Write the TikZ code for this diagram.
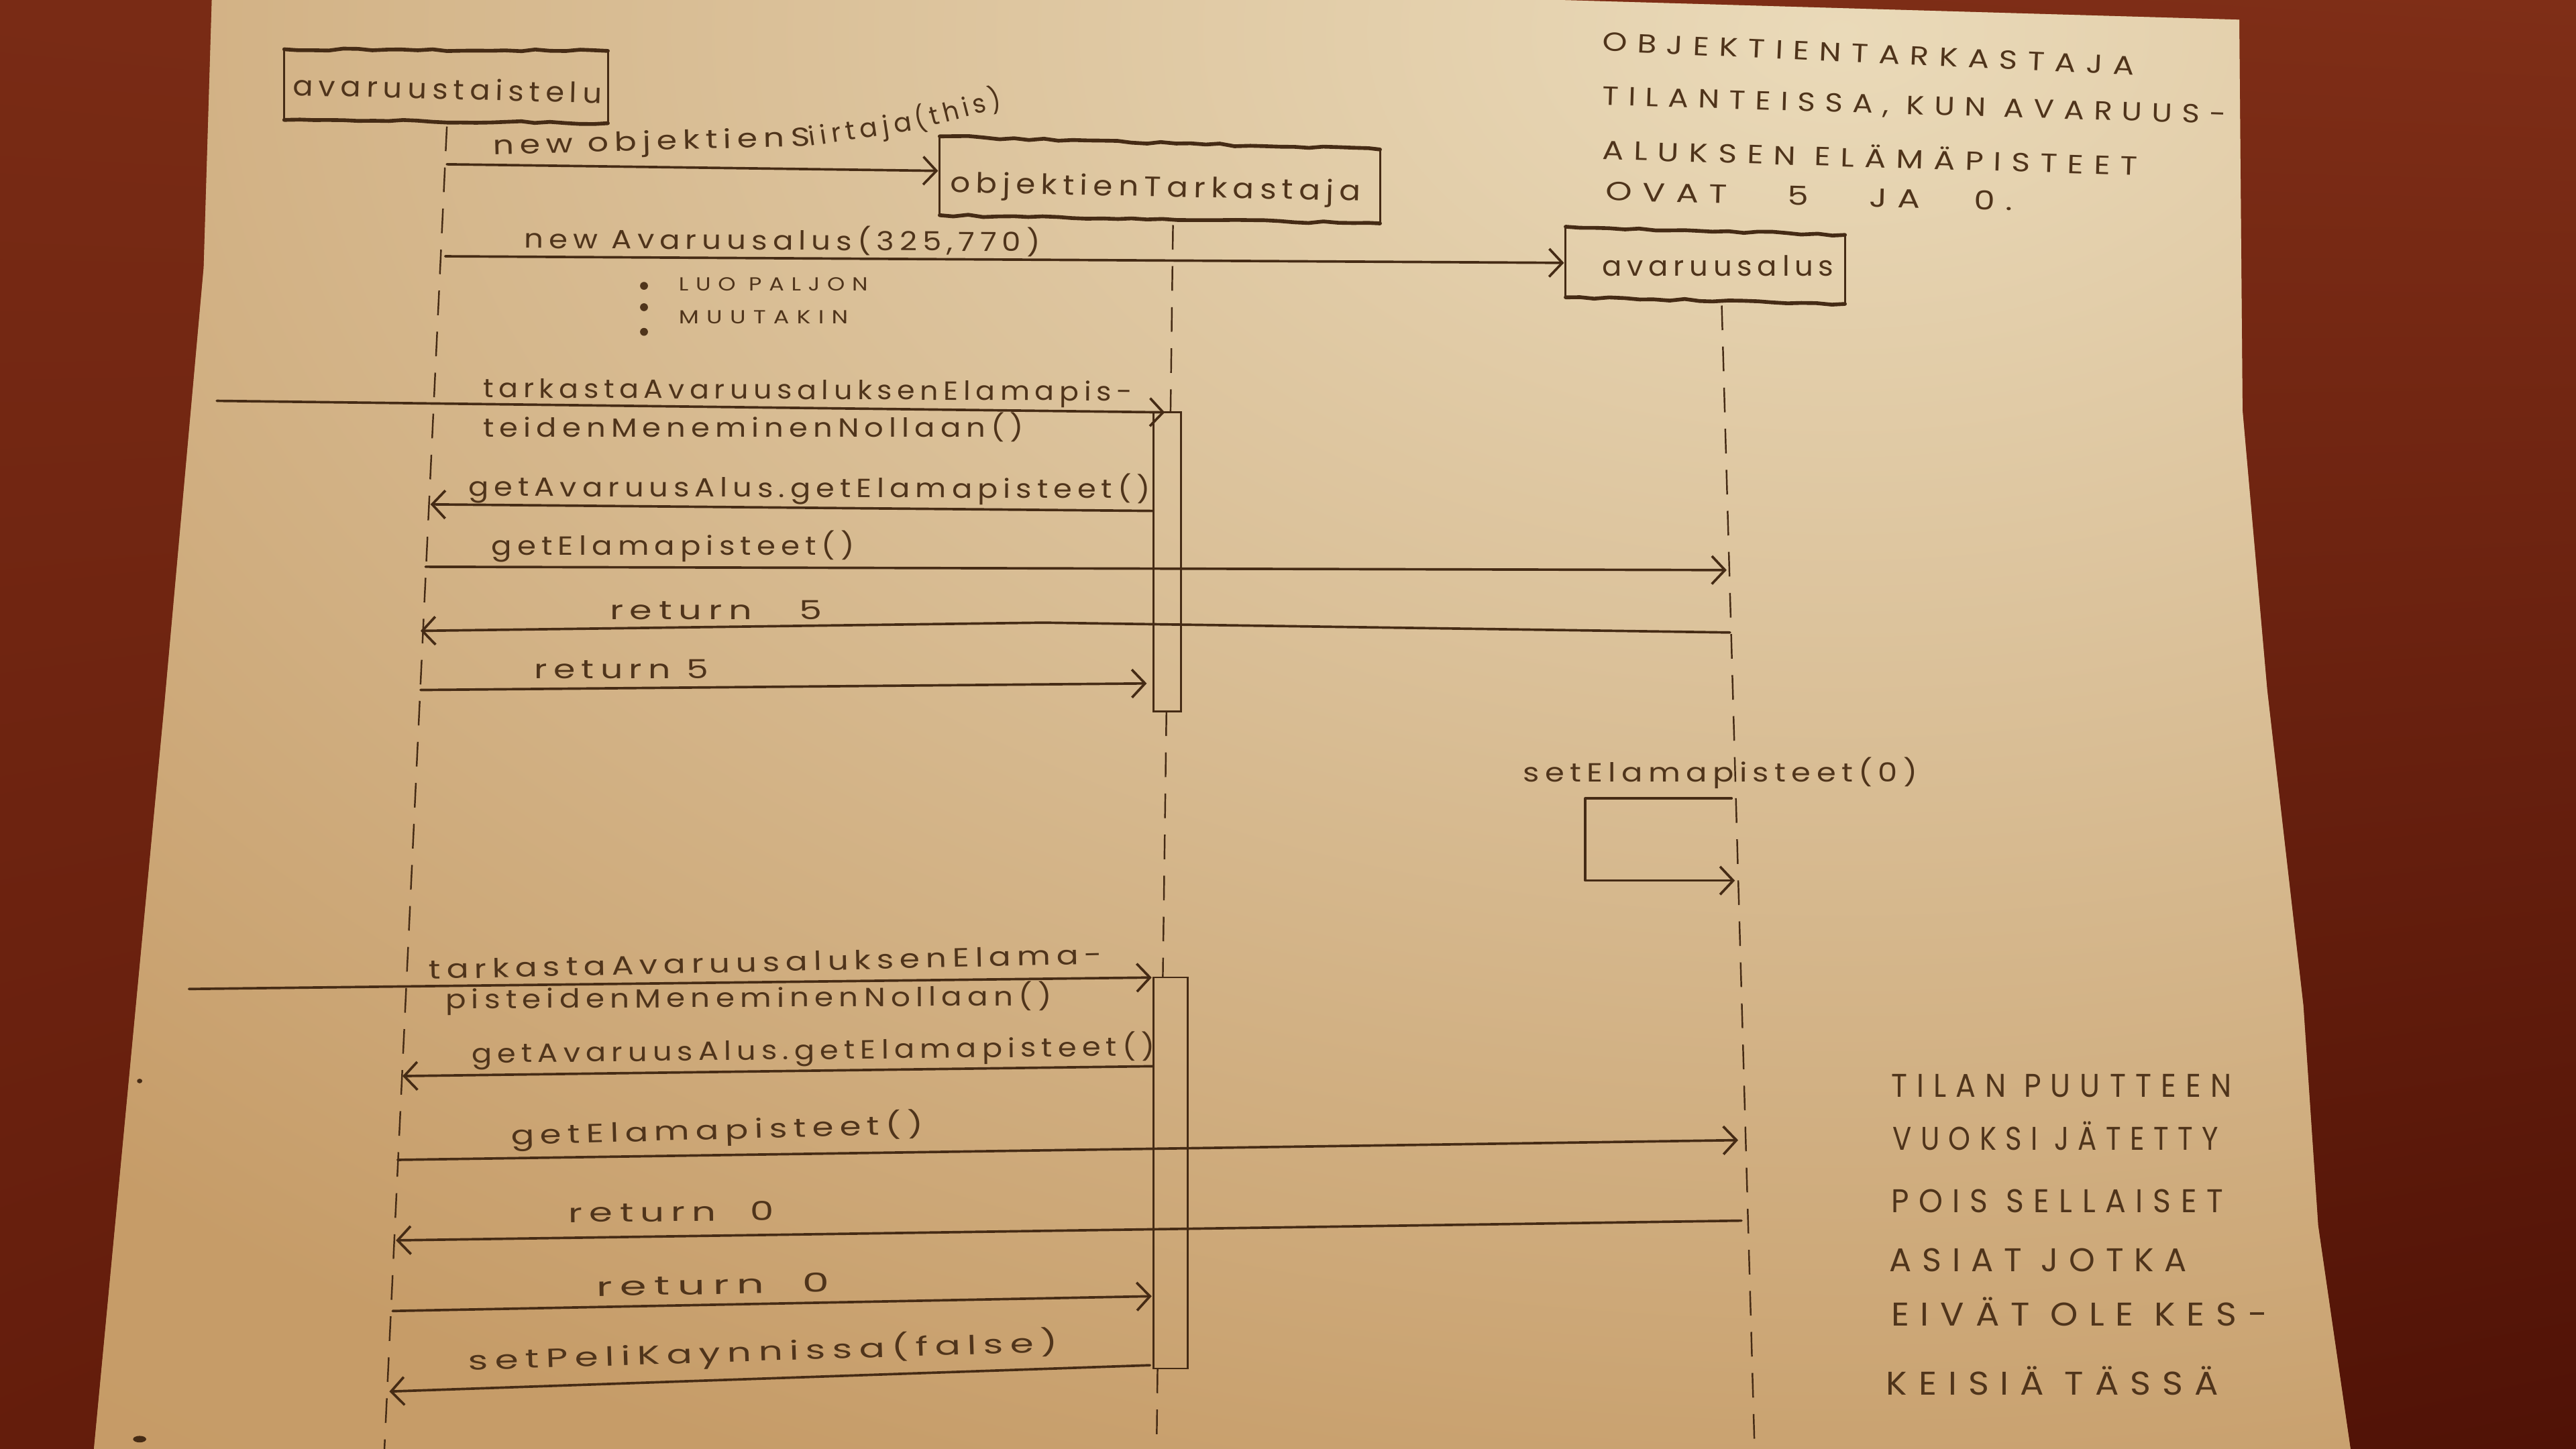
\documentclass[tikz,border=0pt]{standalone}
\usepackage{fontspec}
\usepackage{graphicx}
\usetikzlibrary{arrows.meta,decorations.pathmorphing,shadings}
\newfontfamily\handfont[LetterSpace=18]{Poppins}
\newfontfamily\capsfont[LetterSpace=32]{Poppins}
\definecolor{inkc}{HTML}{452B15}
\definecolor{textc}{HTML}{4F341B}
\definecolor{paperA}{HTML}{EADAB9}
\definecolor{paperB}{HTML}{DCC39C}
\definecolor{paperC}{HTML}{C69C68}
\definecolor{paperD}{HTML}{BE925D}
\definecolor{woodUL}{HTML}{792B15}
\definecolor{woodUR}{HTML}{7F2E17}
\definecolor{woodLL}{HTML}{641D0C}
\definecolor{woodLR}{HTML}{501206}
% light falling on the sheet from the upper right
\pgfdeclareradialshading{paperlight}{\pgfpoint{0bp}{0bp}}{%
  color(0bp)=(paperA); color(6bp)=(paperB); color(16bp)=(paperC);
  color(50bp)=(paperD)}
% squeeze or stretch a label horizontally to a given width (in pt)
\newcommand\fitw[2]{\resizebox{#1pt}{\height}{#2}}
\tikzset{
  ink/.style={draw=inkc, line width=1.5pt, line cap=round, line join=round},
  lifeline/.style={draw=inkc, line width=1pt, dash pattern=on 15pt off 10pt},
  msg/.style={ink, -{Straight Barb[length=8pt,width=17pt]}},
  boxedge/.style={draw=inkc, line width=2.3pt, line cap=round,
    decorate, decoration={random steps, segment length=9pt, amplitude=0.7pt}},
  boxside/.style={draw=inkc, line width=1.2pt},
  actbox/.style={draw=inkc, line width=1.1pt},
  lbl/.style={inner sep=0pt, anchor=base west, text=textc,
    font=\handfont\fontsize{16pt}{18pt}\selectfont},
  hdr/.style={lbl, font=\handfont\fontsize{17pt}{19pt}\selectfont},
  small/.style={lbl, font=\capsfont\fontsize{11.5pt}{13pt}\selectfont},
  note/.style={lbl, font=\capsfont\fontsize{16pt}{18pt}\selectfont},
  bignote/.style={lbl, font=\capsfont\fontsize{20pt}{22pt}\selectfont},
}
\begin{document}
\begin{tikzpicture}[x=1pt,y=-1pt]
\useasboundingbox (0,0) rectangle (1568,882);

% table top
\shade[upper left=woodUL, upper right=woodUR, lower left=woodLL, lower right=woodLR]
  (0,0) rectangle (1568,882);

% sheet of paper
\def\paperpath{(129,-2) -- (880,-2) -- (1363,12) -- (1365,250) -- (1380,420)
  -- (1402,612) -- (1411,746) -- (1431,884) -- (57,884) -- (75,694)
  -- (100,430) -- (124,163) -- cycle}
\begin{scope}
  \clip \paperpath;
  \fill[paperD] (0,0) rectangle (1568,882);
  \shade[shading=paperlight] (1120,20) ellipse (2400 and 1500);
\end{scope}

% ---------- participants ----------
\node[hdr, rotate=-1.5] (avaru) at (178,58) {\fitw{188}{avaruustaistelu}};
\draw[boxedge] (173,30) -- (370,31);
\draw[boxedge] (173,73) -- (370,75);
\draw[boxside] (173,30) -- (173,73);
\draw[boxside] (370,31) -- (370,75);

\node[hdr, rotate=-1.2] (tark) at (578,117) {\fitw{250}{objektienTarkastaja}};
\draw[boxedge] (572,83) -- (840,91);
\draw[boxedge] (572,131) -- (840,136);
\draw[boxside] (572,83) -- (572,131);
\draw[boxside] (840,91) -- (840,136);

\node[hdr] (alus) at (975,168) {\fitw{141}{avaruusalus}};
\draw[boxedge] (953,138) -- (1123,143);
\draw[boxedge] (953,181) -- (1123,185);
\draw[boxside] (953,138) -- (953,181);
\draw[boxside] (1123,143) -- (1123,185);

% ---------- lifelines ----------
\coordinate (L1a) at (272,77);   \coordinate (L1b) at (234,882);
\coordinate (L2a) at (714,137);  \coordinate (L2b) at (712.5,251);
\coordinate (L2c) at (710,433);  \coordinate (L2d) at (707.8,595);
\coordinate (L2e) at (704.6,833);\coordinate (L2f) at (704,882);
\coordinate (L3a) at (1048,186); \coordinate (L3b) at (1068,882);
\draw[lifeline] (L1a) -- (L1b);
\draw[lifeline] (L2a) -- (L2b);
\draw[lifeline] (L2c) -- (L2d);
\draw[lifeline] (L2e) -- (L2f);
\draw[lifeline] (L3a) -- (L3b);

% activation bars of objektienTarkastaja
\draw[actbox] (702,251) rectangle (719,433);
\draw[actbox] (702,595) rectangle (723,833);

% ---------- creation messages ----------
\coordinate (c1s) at (272,100); \coordinate (c1e) at (571,104);
\draw[msg] (c1s) -- (c1e);
\node[lbl, rotate=1.5] (c1a) at (300,94) {\fitw{193}{new objektienS}};
\node[lbl, rotate=8.6] (c1b) at (493,89) {\fitw{63}{iirtaja}};
\node[lbl, rotate=14.5] (c1c) at (558,79) {\fitw{54}{(this)}};

\coordinate (c2s) at (271,156); \coordinate (c2e) at (952,160);
\draw[msg] (c2s) -- (c2e);
\node[lbl, rotate=-0.4] (c2t) at (319,151) {\fitw{314}{new Avaruusalus(325,770)}};

\fill[textc] (392,174) circle (2.4);
\fill[textc] (392,187) circle (2.4);
\fill[textc] (392,202) circle (2.4);
\node[small] (luo) at (413,177) {\fitw{115}{LUO PALJON}};
\node[small] (muu) at (413,197) {\fitw{103}{MUUTAKIN}};

% ---------- first check: 5 life points ----------
\coordinate (a1s) at (132,244); \coordinate (a1e) at (709,251);
\draw[msg] (a1s) -- (a1e);
\node[lbl, rotate=-0.3] (a1t) at (294,242) {\fitw{395}{tarkastaAvaruusaluksenElamapis-}};
\node[lbl] (a1u) at (294,266) {\fitw{329}{teidenMeneminenNollaan()}};

\coordinate (a2s) at (702,311); \coordinate (a2e) at (262,307);
\draw[msg] (a2s) -- (a2e);
\node[lbl, rotate=-0.2] (a2t) at (285,302) {\fitw{415}{getAvaruusAlus.getElamapisteet()}};

\coordinate (a3s) at (259,345); \coordinate (a3e) at (1051,347);
\draw[msg] (a3s) -- (a3e);
\node[lbl] (a3t) at (299,338) {\fitw{221}{getElamapisteet()}};

\coordinate (a4s) at (1053,385); \coordinate (a4m) at (635,379); \coordinate (a4e) at (256,384);
\draw[msg] (a4s) -- (a4m) -- (a4e);
\node[lbl] (a4t) at (371,377) {\fitw{129}{return\hspace{1.3em}5}};

\coordinate (a5s) at (256,420); \coordinate (a5e) at (698,416);
\draw[msg] (a5s) -- (a5e);
\node[lbl] (a5t) at (325,413) {\fitw{106}{return 5}};

% ---------- self call on avaruusalus ----------
\node[lbl] (sett) at (927,476) {\fitw{240}{setElamapisteet(0)}};
\coordinate (s1) at (1054,486); \coordinate (s2) at (965,486);
\coordinate (s3) at (965,536);  \coordinate (s4) at (1056,536);
\draw[msg] (s1) -- (s2) -- (s3) -- (s4);

% ---------- second check: 0 life points ----------
\coordinate (b1s) at (115,602); \coordinate (b1e) at (701,595);
\draw[msg] (b1s) -- (b1e);
\node[lbl, rotate=1.3] (b1t) at (261,596) {\fitw{410}{tarkastaAvaruusaluksenElama-}};
\node[lbl, rotate=0.3] (b1u) at (271,614) {\fitw{369}{pisteidenMeneminenNollaan()}};

\coordinate (b2s) at (702,649); \coordinate (b2e) at (245,655);
\draw[msg] (b2s) -- (b2e);
\node[lbl, rotate=0.6] (b2t) at (287,647) {\fitw{416}{getAvaruusAlus.getElamapisteet()}};

\coordinate (b3s) at (242,706); \coordinate (b3e) at (1058,694);
\draw[msg] (b3s) -- (b3e);
\node[lbl, rotate=1.6] (b3t) at (311,697) {\fitw{251}{getElamapisteet()}};

\coordinate (b4s) at (1060,743); \coordinate (b4e) at (241,755);
\draw[msg] (b4s) -- (b4e);
\node[lbl, rotate=0.5] (b4t) at (346,744) {\fitw{125}{return\hspace{0.9em}0}};

\coordinate (b5s) at (239,798); \coordinate (b5e) at (701,789);
\draw[msg] (b5s) -- (b5e);
\node[lbl, rotate=1] (b5t) at (363,789) {\fitw{142}{return\hspace{0.9em}0}};

\coordinate (b6s) at (700,831); \coordinate (b6e) at (237,847);
\draw[msg] (b6s) -- (b6e);
\node[lbl, rotate=1.8] (b6t) at (285,834) {\fitw{359}{setPeliKaynnissa(false)}};

% ---------- notes ----------
\node[note, rotate=-2.6] (n1) at (975,31) {\fitw{324}{OBJEKTIENTARKASTAJA}};
\node[note, rotate=-1.7] (n2) at (975,64) {\fitw{380}{TILANTEISSA, KUN AVARUUS-}};
\node[note, rotate=-1.7] (n3) at (975,97) {\fitw{326}{ALUKSEN ELÄMÄPISTEET}};
\node[note, rotate=-1.4] (n4) at (977,122) {\fitw{248}{OVAT\hspace{1.8em}5\hspace{1.8em}JA\hspace{1.6em}0.}};

\node[bignote] (p1) at (1151,668) {\fitw{207}{TILAN PUUTTEEN}};
\node[bignote] (p2) at (1152,700) {\fitw{198}{VUOKSI JÄTETTY}};
\node[bignote] (p3) at (1151,738) {\fitw{202}{POIS SELLAISET}};
\node[bignote] (p4) at (1150,774) {\fitw{181}{ASIAT JOTKA}};
\node[bignote] (p5) at (1151,807) {\fitw{229}{EIVÄT OLE KES-}};
\node[bignote] (p6) at (1148,849) {\fitw{202}{KEISIÄ TÄSSÄ}};

% stray ink specks on the sheet
\fill[inkc] (85,658) ellipse (1.6 and 1.4);
\fill[inkc] (85,876) ellipse (4 and 2);
\end{tikzpicture}
\end{document}
